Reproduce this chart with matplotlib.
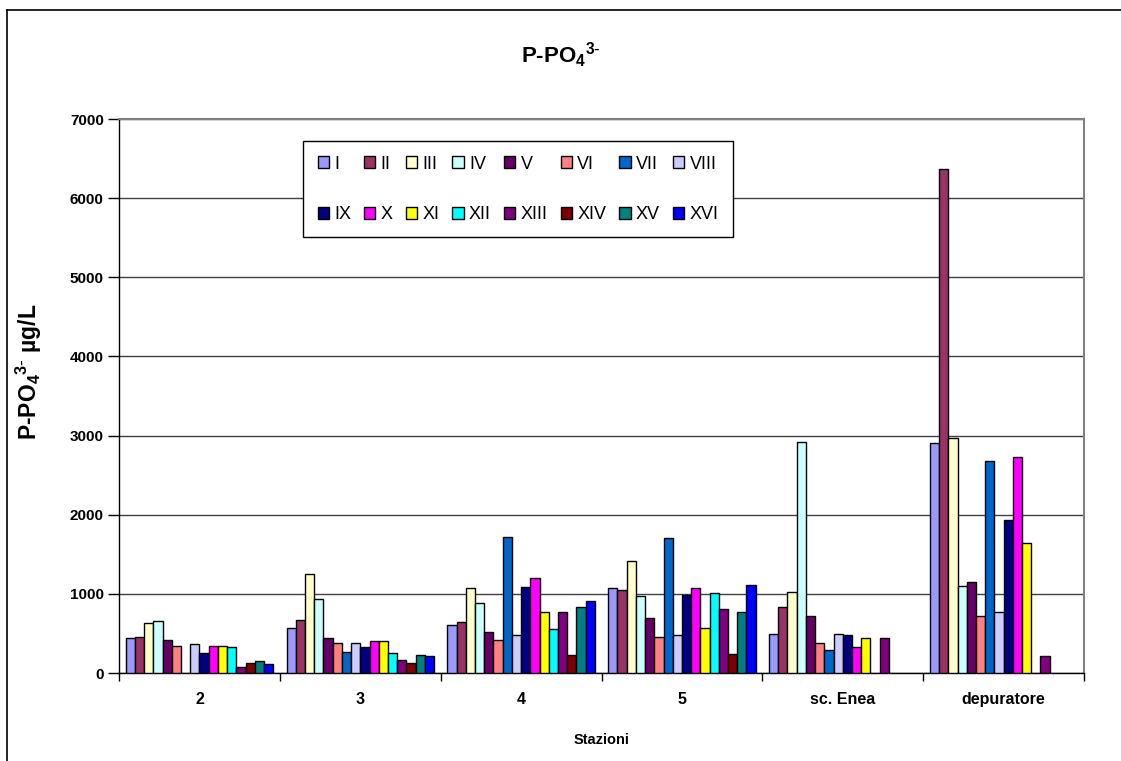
import numpy as np
import matplotlib
matplotlib.use("Agg")
import matplotlib.pyplot as plt
from matplotlib.patches import Patch
from matplotlib.lines import Line2D

plt.rcParams['font.family'] = ['Liberation Sans', 'DejaVu Sans']
plt.rcParams['mathtext.default'] = 'regular'

# -----------------------------
# DATA (P-PO4 3-, ug/L)
# -----------------------------
stations = ["2", "3", "4", "5", "sc. Enea", "depuratore"]
campaigns = ["I", "II", "III", "IV", "V", "VI", "VII", "VIII",
             "IX", "X", "XI", "XII", "XIII", "XIV", "XV", "XVI"]

# one list per station, values in campaign order (nan = no sample)
st_2 = [440, 460, 630, 655, 420, 340, np.nan, 365,
        250, 340, 340, 325, 75, 130, 150, 115]
st_3 = [575, 670, 1250, 935, 440, 380, 265, 380,
        325, 400, 400, 250, 170, 130, 230, 210]
st_4 = [610, 650, 1070, 880, 515, 420, 1720, 475,
        1090, 1200, 765, 555, 765, 225, 840, 915]
st_5 = [1070, 1045, 1410, 970, 690, 455, 1700, 475,
        990, 1070, 570, 1015, 805, 245, 765, 1110]
st_enea = [495, 840, 1030, 2925, 725, 380, 285, 495,
           475, 325, 440, np.nan, 440, np.nan, np.nan, np.nan]
st_dep = [2905, 6365, 2975, 1105, 1150, 725, 2680, 765,
          1930, 2735, 1640, np.nan, 210, np.nan, np.nan, np.nan]

colors = ["#9999FF", "#993366", "#FFFFCC", "#CCFFFF", "#660066", "#FF8080",
          "#0066CC", "#CCCCFF", "#000080", "#FF00FF", "#FFFF00", "#00FFFF",
          "#800080", "#800000", "#008080", "#0000FF"]

values = np.array([st_2, st_3, st_4, st_5, st_enea, st_dep]).T

# -----------------------------
# PLOT
# -----------------------------
fig = plt.figure(figsize=(11.21, 7.61), dpi=100)
ax = fig.add_axes([0.1062, 0.1156, 0.8608, 0.728])

n = len(campaigns)
x = np.arange(len(stations))
w = 0.917 / n

for i in range(n):
    ax.bar(x + (i - (n - 1) / 2) * w, values[i], width=w,
           color=colors[i], edgecolor="black", linewidth=1.0, zorder=3)

ax.set_xlim(-0.5, len(stations) - 0.5)
ax.set_ylim(0, 7000)
ax.set_yticks(np.arange(0, 7001, 1000))
ax.yaxis.grid(True, color="#404040", linewidth=1.0, zorder=0)

# group separators as major ticks, station names as minor ticks
ax.set_xticks(np.arange(-0.5, len(stations)), labels=[])
ax.set_xticks(x, labels=stations, minor=True)
ax.tick_params(axis="x", which="major", direction="out", length=6, width=1)
ax.tick_params(axis="x", which="minor", length=0, pad=14, labelsize=11.5)
ax.tick_params(axis="y", direction="out", length=8, width=1, pad=3, labelsize=11)
for lab in ax.get_xticklabels(minor=True) + ax.get_yticklabels():
    lab.set_fontweight("bold")

for s in ["left", "bottom"]:
    ax.spines[s].set_color("black")
    ax.spines[s].set_linewidth(1.0)
for s in ["top", "right"]:
    ax.spines[s].set_color("#808080")
    ax.spines[s].set_linewidth(1.5)

ax.set_xlabel("Stazioni", fontsize=10.5, fontweight="bold")
ax.xaxis.set_label_coords(0.5, -0.108)
ax.set_ylabel(r"P-PO$_{4}$$^{3\text{-}}$ µg/L", fontsize=16.5, fontweight="bold")
ax.yaxis.set_label_coords(-0.078, 0.543)

fig.text(0.5, 0.927, r"P-PO$_{4}$$^{3\text{-}}$", ha="center", va="center",
         fontsize=16, fontweight="bold")

# legend, filled row by row like the original
order = [k for c in range(8) for k in (c, c + 8)]
handles = [Patch(facecolor=colors[k], edgecolor="black", linewidth=1.0) for k in order]
labels = [campaigns[k] for k in order]
leg = ax.legend(handles, labels, ncol=8, loc="upper left",
                bbox_to_anchor=(0.1907, 0.960, 0.4456, 0.0), mode="expand",
                borderaxespad=0.0,
                fontsize=13, handlelength=0.62, handleheight=0.62,
                handletextpad=0.3, labelspacing=1.85, borderpad=0.8,
                fancybox=False, framealpha=1, edgecolor="black")
leg.get_frame().set_linewidth(1.0)
leg.set_zorder(5)

# outer chart border (left and top visible)
fig.add_artist(Line2D([7 / 1121, 7 / 1121], [0, 1 - 10 / 761],
                      transform=fig.transFigure, color="black", linewidth=1.2))
fig.add_artist(Line2D([7 / 1121, 1], [1 - 10 / 761, 1 - 10 / 761],
                      transform=fig.transFigure, color="black", linewidth=1.2))

fig.savefig("out.png", dpi=100)
